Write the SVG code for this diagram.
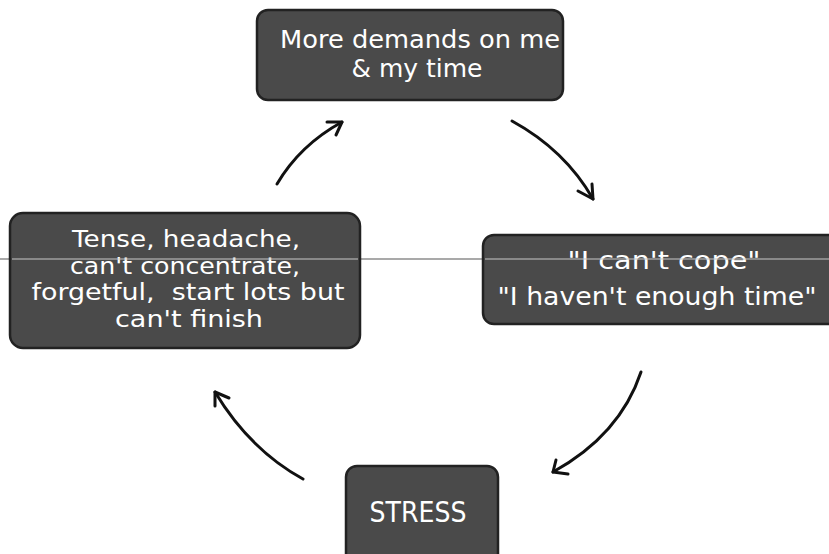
<svg xmlns="http://www.w3.org/2000/svg" width="829" height="554" viewBox="0 0 829 554">
<style>
.box{fill:#4a4a4a;stroke:#222;stroke-width:2.5}
.t{font-family:"DejaVu Sans",Verdana,sans-serif;font-size:25px;fill:#ffffff;text-anchor:middle}
.s{font-size:23px}
.arr{fill:none;stroke:#111;stroke-width:3;stroke-linecap:round;stroke-linejoin:round}
.rule{stroke:#555;stroke-width:1.2}
.rule2{stroke:#c8c8c8;stroke-width:1.2}
</style>
<rect width="829" height="554" fill="#ffffff"/>
<line class="rule" x1="0" y1="259" x2="829" y2="259"/>
<g id="node-demands">
<rect class="box" x="257" y="10" width="306" height="90" rx="11"/>
<text class="t" x="420" y="48" textLength="280" lengthAdjust="spacingAndGlyphs">More demands on me</text>
<text class="t" x="417" y="77" textLength="131" lengthAdjust="spacingAndGlyphs">&amp; my time</text>
</g>
<g id="node-cope">
<rect class="box" x="483" y="235" width="360" height="89" rx="11"/>
<text class="t" x="664" y="269" textLength="193" lengthAdjust="spacingAndGlyphs">"I can't cope"</text>
<text class="t" x="657" y="305" textLength="319" lengthAdjust="spacingAndGlyphs">"I haven't enough time"</text>
</g>
<g id="node-stress">
<rect class="box" x="346" y="466" width="152" height="100" rx="11"/>
<text class="t" x="418" y="522" style="font-size:29px" textLength="97" lengthAdjust="spacingAndGlyphs">STRESS</text>
</g>
<g id="node-tense">
<rect class="box" x="10" y="213" width="350" height="135" rx="13"/>
<text class="t s" x="186" y="247" textLength="228" lengthAdjust="spacingAndGlyphs">Tense, headache,</text>
<text class="t s" x="185" y="274" textLength="230" lengthAdjust="spacingAndGlyphs">can't concentrate,</text>
<text class="t s" x="188" y="300" textLength="313" lengthAdjust="spacingAndGlyphs" xml:space="preserve">forgetful,  start lots but</text>
<text class="t s" x="189" y="327" textLength="148" lengthAdjust="spacingAndGlyphs">can't finish</text>
</g>
<line class="rule2" x1="12" y1="259" x2="358" y2="259"/>
<line class="rule2" x1="485" y1="259" x2="829" y2="259"/>
<g id="connectors">
<path class="arr" d="M277,184 Q300,145 342,122"/>
<path class="arr" d="M327,122 L342,122 L336,135"/>
<path class="arr" d="M512,121 Q565,150 593,199"/>
<path class="arr" d="M578,191 L593,199 L592,184"/>
<path class="arr" d="M641,372 Q620,435 553,472"/>
<path class="arr" d="M556,460 L553,472 L568,474"/>
<path class="arr" d="M303,479 Q250,450 215,392"/>
<path class="arr" d="M215,406 L215,392 L229,398"/>
</g>
</svg>
